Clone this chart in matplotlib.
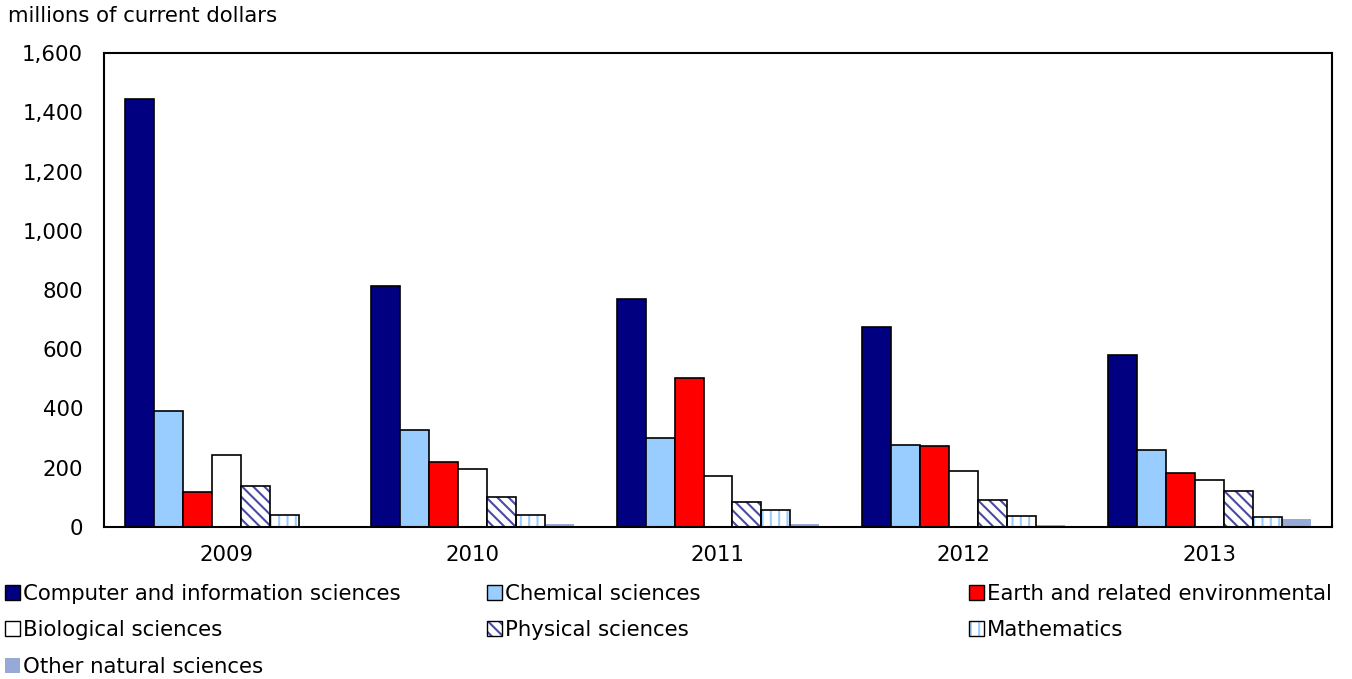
import matplotlib
matplotlib.use("Agg")
import matplotlib.pyplot as plt
from matplotlib.patches import Rectangle
from matplotlib.legend_handler import HandlerTuple
import numpy as np

plt.rcParams['font.family'] = ['DejaVu Sans']
plt.rcParams['hatch.linewidth'] = 1.5

years = ["2009", "2010", "2011", "2012", "2013"]
computer = [1445, 813, 770, 675, 581]
chemical = [392, 327, 300, 278, 260]
earth = [117, 219, 503, 272, 182]
biological = [244, 195, 173, 189, 157]
physical = [140, 102, 84, 90, 121]
mathematics = [42, 39, 58, 38, 35]
other = [0, 9, 11, 6, 28]

series = [
    ("Computer and information sciences", computer, dict(color="#000080")),
    ("Chemical sciences", chemical, dict(color="#99ccff")),
    ("Earth and related environmental", earth, dict(color="#ff0000")),
    ("Biological sciences", biological, dict(color="white")),
    ("Physical sciences", physical, dict(color="white", hatch="\\\\\\", hatchc="#4a4aa6")),
    ("Mathematics", mathematics, dict(color="white", hatch="||", hatchc="#99ccff")),
    ("Other natural sciences", other, dict(color="#97a9d6", noedge=True)),
]

FS = 15.3

fig = plt.figure(figsize=(13.52, 6.79), dpi=100)
ax = fig.add_axes([104 / 1352, 1 - 527 / 679, (1332 - 104) / 1352, (527 - 53) / 679])

x = np.arange(len(years))
w = 0.118
n = len(series)
handles = []
for i, (name, vals, st) in enumerate(series):
    pos = x + (i - (n - 1) / 2) * w
    if st.get("hatch"):
        ax.bar(pos, vals, w, color=st["color"], edgecolor=st["hatchc"], hatch=st["hatch"], linewidth=0, zorder=2)
        ax.bar(pos, vals, w, fill=False, edgecolor="black", linewidth=1.2, zorder=3)
        h_hatch = Rectangle((0, 0), 1, 1, facecolor="white", edgecolor=st["hatchc"], hatch=st["hatch"], linewidth=0)
        h = Rectangle((0, 0), 1, 1, fill=False, edgecolor="black", linewidth=1.0)
        handles.append((h_hatch, h))
    elif st.get("noedge"):
        ax.bar(pos, vals, w, color=st["color"], linewidth=0, zorder=2)
        handles.append(Rectangle((0, 0), 1, 1, facecolor=st["color"], linewidth=0))
    else:
        ax.bar(pos, vals, w, color=st["color"], edgecolor="black", linewidth=1.2, zorder=2)
        handles.append(Rectangle((0, 0), 1, 1, facecolor=st["color"], edgecolor="black", linewidth=1.0))

ax.set_xlim(-0.5, len(years) - 0.5)
ax.set_ylim(0, 1600)
ax.set_yticks(np.arange(0, 1601, 200))
ax.set_yticklabels([f"{v:,}" for v in range(0, 1601, 200)])
ax.set_xticks(x)
ax.set_xticklabels(years)
ax.tick_params(axis="y", length=0, pad=15, labelsize=FS)
ax.tick_params(axis="x", length=0, pad=13, labelsize=FS)
for s in ax.spines.values():
    s.set_linewidth(1.5)
    s.set_color("black")

fig.text(8 / 1352, 1 - 16 / 679, "millions of current dollars", fontsize=FS, va="center", ha="left")

# legend: three columns, placed per column
cols = [[0, 3, 6], [1, 4], [2, 5]]
col_x = [5 / 1352, 487 / 1352, 969 / 1352]
for cx, idx in zip(col_x, cols):
    fig.legend([handles[i] for i in idx], [series[i][0] for i in idx],
               loc="upper left", bbox_to_anchor=(cx, 1 - 584 / 679),
               frameon=False, fontsize=FS, handlelength=0.7, handleheight=0.7,
               handletextpad=0.15, labelspacing=0.77, borderaxespad=0, borderpad=0,
               handler_map={tuple: HandlerTuple(ndivide=1, pad=0)})

fig.savefig("out.png", dpi=100)
